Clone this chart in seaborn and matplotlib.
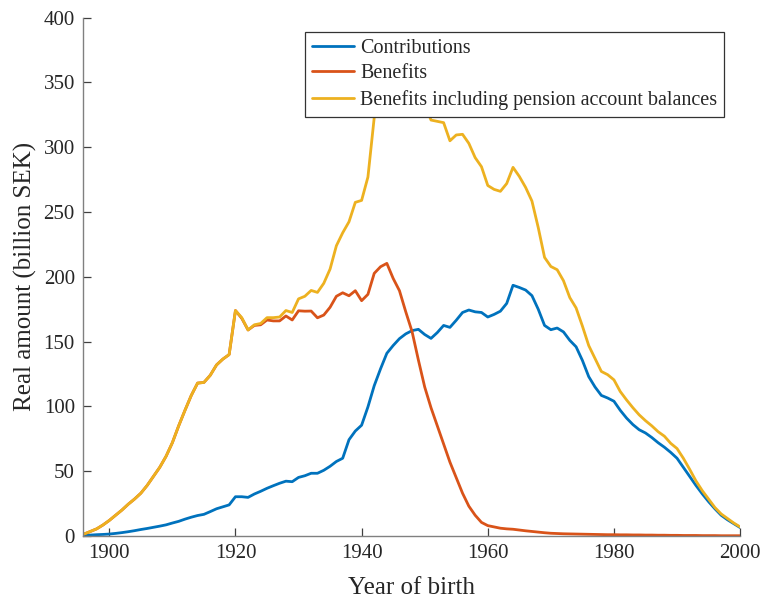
import numpy as np
import pandas as pd
import matplotlib
matplotlib.use('Agg')
import matplotlib.pyplot as plt
import seaborn as sns

years = list(range(1896, 2001))

contributions = [
    0.5, 0.7, 1.0, 1.2, 1.5, 2.0, 2.6, 3.3, 4.1, 5.0,                 # 1896-1905
    5.8, 6.7, 7.6, 8.6, 10.0, 11.3, 13.0, 14.5, 15.8, 16.7,           # 1906-1915
    18.8, 21.0, 22.5, 24.0, 30.3, 30.3, 29.8, 32.4, 34.5, 36.8,       # 1916-1925
    38.8, 40.7, 42.3, 41.9, 45.2, 46.5, 48.4, 48.4, 50.7, 53.8,       # 1926-1935
    57.5, 60.0, 74.3, 81.0, 85.5, 99.6, 116.0, 129.0, 141.0, 147.0,   # 1936-1945
    152.3, 156.0, 158.5, 159.5, 155.5, 152.5, 157.0, 162.5, 161.0, 166.5,  # 1946-1955
    172.5, 174.4, 173.0, 172.5, 169.0, 171.0, 173.5, 179.5, 193.5, 191.8,  # 1956-1965
    189.8, 185.5, 175.0, 162.5, 159.2, 160.5, 157.5, 151.0, 146.0, 135.5,  # 1966-1975
    123.0, 115.0, 108.5, 106.5, 104.0, 97.0, 91.0, 86.0, 82.0, 79.5,       # 1976-1985
    76.0, 72.0, 68.5, 64.5, 60.0, 53.0, 46.0, 39.0, 32.5, 26.5,            # 1986-1995
    21.0, 16.0, 12.5, 9.5, 6.5,                                             # 1996-2000
]

benefits = [
    1.5, 3.5, 5.5, 8.5, 12.0, 16.0, 20.0, 24.5, 28.5, 33.0,
    39.0, 46.0, 53.0, 61.5, 72.0, 85.0, 97.0, 108.5, 118.0, 118.5,
    124.0, 132.0, 136.5, 140.0, 174.0, 168.0, 159.0, 162.5, 163.0, 166.7,
    166.0, 166.0, 169.8, 166.7, 173.8, 173.5, 173.6, 168.4, 170.5, 176.5,
    185.0, 187.7, 185.4, 189.3, 181.6, 186.5, 202.7, 207.8, 210.4, 198.8,
    189.3, 173.0, 157.7, 135.8, 115.0, 99.0, 85.0, 71.0, 57.0, 45.0,
    33.0, 23.0, 16.0, 10.5, 8.0, 7.0, 6.0, 5.5, 5.2, 4.6,
    4.0, 3.5, 3.0, 2.5, 2.1, 1.9, 1.7, 1.6, 1.5, 1.4,
    1.3, 1.2, 1.1, 1.0, 1.0, 0.9, 0.9, 0.8, 0.8, 0.7,
    0.7, 0.6, 0.6, 0.5, 0.5, 0.4, 0.4, 0.4, 0.3, 0.3,
    0.3, 0.2, 0.2, 0.2, 0.2,
]

benefits_incl = [
    1.5, 3.5, 5.5, 8.5, 12.0, 16.0, 20.0, 24.5, 28.5, 33.0,
    39.0, 46.0, 53.0, 61.5, 72.0, 85.0, 97.0, 108.5, 118.0, 118.5,
    124.0, 132.0, 136.5, 140.0, 174.0, 168.5, 159.0, 163.0, 164.0, 168.5,
    168.5, 169.0, 174.0, 172.5, 183.0, 185.0, 189.5, 188.0, 195.0, 206.0,
    224.0, 234.0, 242.5, 257.5, 259.0, 277.0, 323.0, 370.0, 385.0, 386.0,
    382.0, 375.0, 362.0, 348.0, 333.0, 321.0, 320.0, 319.0, 305.0, 309.5,
    310.0, 303.0, 292.0, 285.0, 270.5, 267.5, 266.0, 272.0, 284.5, 277.5,
    269.0, 258.5, 238.0, 215.0, 208.0, 205.5, 197.0, 184.0, 176.0, 162.0,
    147.0, 137.0, 127.0, 124.5, 120.5, 111.5, 105.0, 99.0, 93.5, 89.0,
    85.0, 80.5, 77.0, 71.5, 67.5, 60.0, 51.5, 42.5, 35.0, 28.5,
    22.0, 17.0, 13.5, 10.0, 7.0,
]

series_names = ['Contributions', 'Benefits',
                'Benefits including pension account balances']
series_colors = ['#0072BD', '#D95319', '#EDB120']
x_ticks = [1900, 1920, 1940, 1960, 1980, 2000]
y_ticks = [0, 50, 100, 150, 200, 250, 300, 350, 400]

df = pd.DataFrame({'Year': years,
                   series_names[0]: contributions,
                   series_names[1]: benefits,
                   series_names[2]: benefits_incl})
long_df = df.melt(id_vars='Year', var_name='Series', value_name='Amount')

sns.set_style('white')
plt.rcParams['font.family'] = ['Liberation Serif', 'DejaVu Serif']

fig = plt.figure(figsize=(7.63, 5.98), dpi=100)
ax = fig.add_axes([0.109, 0.1037, 0.861, 0.8667])

sns.lineplot(data=long_df, x='Year', y='Amount', hue='Series',
             hue_order=series_names, palette=series_colors,
             linewidth=2.0, ax=ax)

ax.set_xlim(1895.86, 2000)
ax.set_ylim(0, 400)
ax.set_xticks(x_ticks)
ax.set_yticks(y_ticks)

for side in ['top', 'right']:
    ax.spines[side].set_visible(False)
for side in ['left', 'bottom']:
    ax.spines[side].set_color('#808080')
    ax.spines[side].set_linewidth(1.0)

ax.tick_params(bottom=True, left=True, direction='in', length=5.5,
               width=0.9, colors='#404040', labelsize=15,
               labelcolor='#262626', pad=6)

ax.set_xlabel('Year of birth', fontsize=18, color='#262626', labelpad=10)
ax.set_ylabel('Real amount (billion SEK)', fontsize=18, color='#262626',
              labelpad=5)

handles, labels = ax.get_legend_handles_labels()
leg = ax.legend(handles, labels, loc='upper left',
                bbox_to_anchor=(305 / 763, 1 - 32 / 598),
                bbox_transform=fig.transFigure, borderaxespad=0,
                fontsize=14.5, frameon=True, fancybox=False, framealpha=1,
                edgecolor='#333333', handlelength=2.1, handletextpad=0.3,
                labelspacing=0.33, borderpad=0.33)
leg.get_frame().set_linewidth(0.9)
leg.set_zorder(10)
for line in leg.get_lines():
    line.set_linewidth(2.0)

fig.savefig('out.png', dpi=100)
